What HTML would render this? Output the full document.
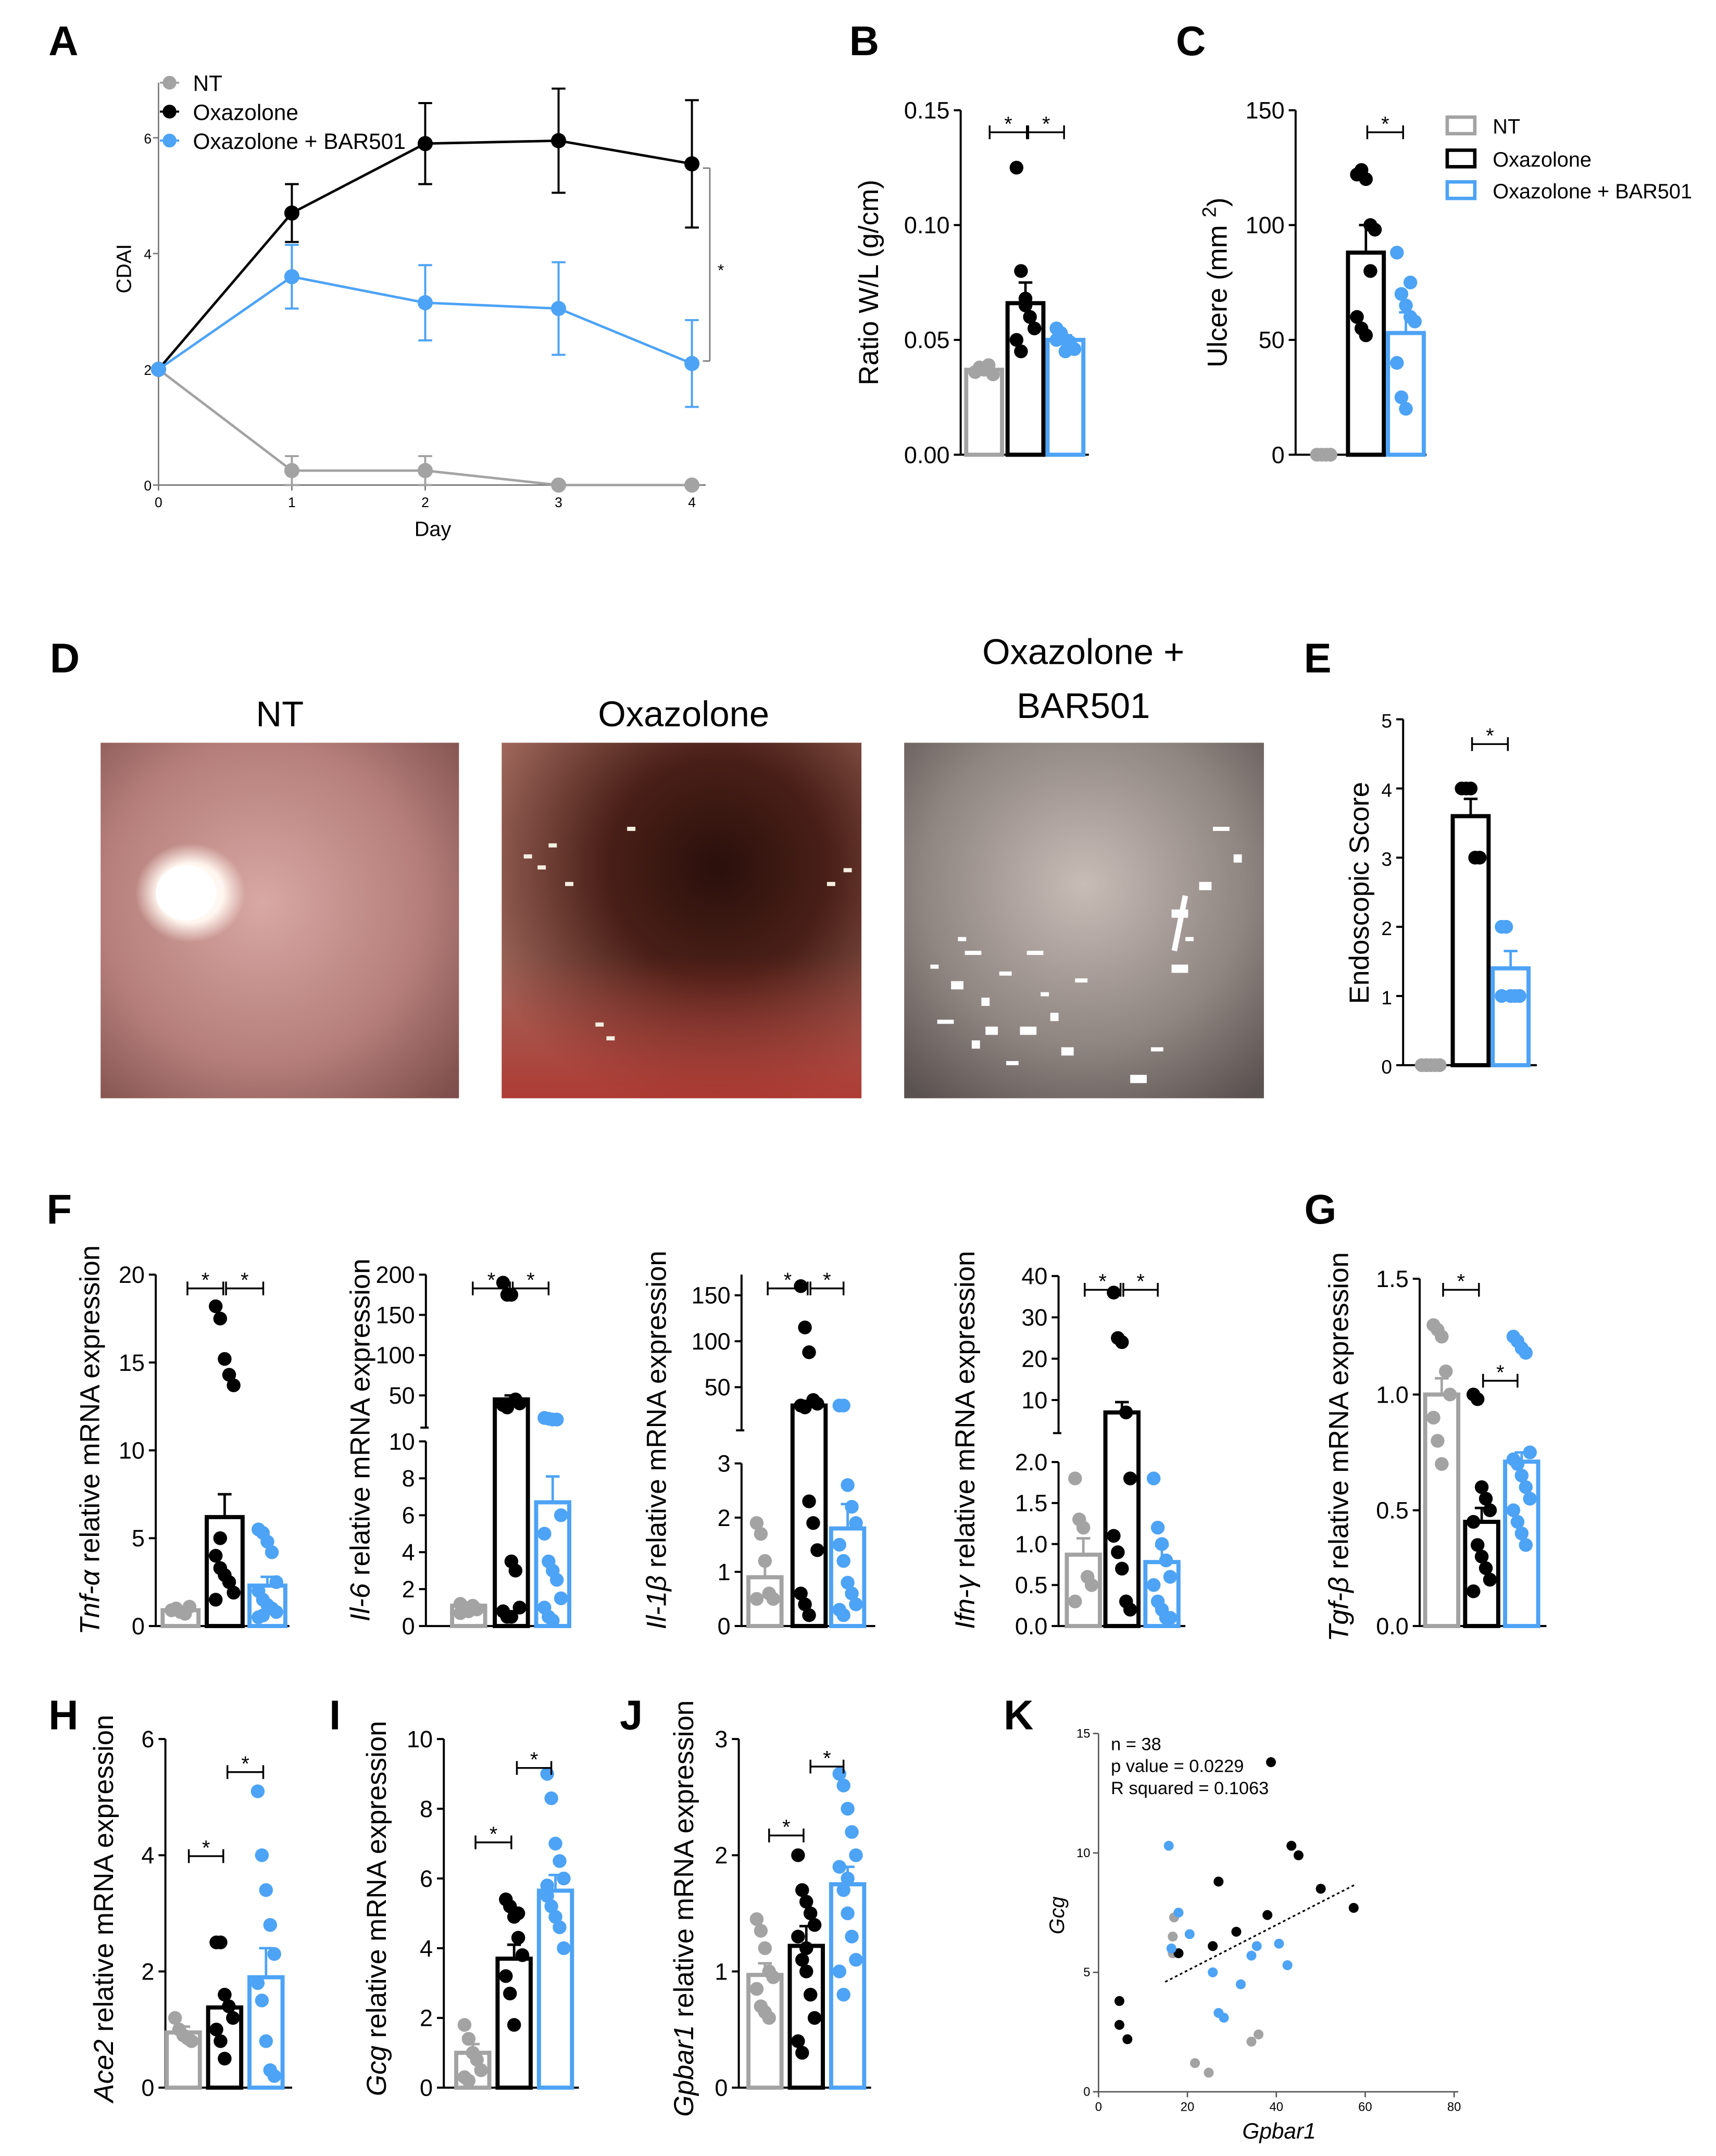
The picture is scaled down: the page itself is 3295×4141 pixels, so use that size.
<!DOCTYPE html>
<html><head><meta charset="utf-8">
<style>
html,body{margin:0;padding:0;background:#fff;}
svg{display:block;font-family:"Liberation Sans",sans-serif;}
</style></head>
<body>
<svg id="fig" width="3295" height="4141" viewBox="0 0 1245 1564.6" preserveAspectRatio="none" xmlns="http://www.w3.org/2000/svg">
<defs>
<radialGradient id="gNT" cx="0.45" cy="0.45" r="0.75"><stop offset="0" stop-color="#d8a8a4"/><stop offset="0.6" stop-color="#b57e7a"/><stop offset="1" stop-color="#7e4f4c"/></radialGradient>
<radialGradient id="gOX" cx="0.6" cy="0.35" r="0.7"><stop offset="0" stop-color="#2a0f0b"/><stop offset="0.45" stop-color="#4a2018"/><stop offset="1" stop-color="#a26a5e"/></radialGradient>
<radialGradient id="gBA" cx="0.5" cy="0.4" r="0.75"><stop offset="0" stop-color="#c8bcb6"/><stop offset="0.6" stop-color="#8f8581"/><stop offset="1" stop-color="#5a5250"/></radialGradient>
<radialGradient id="gWhite" cx="0.5" cy="0.5" r="0.5"><stop offset="0" stop-color="#ffffff"/><stop offset="0.6" stop-color="#fff6ef"/><stop offset="1" stop-color="#fff0e8" stop-opacity="0"/></radialGradient>
<linearGradient id="gRed" x1="0" y1="0" x2="0" y2="1"><stop offset="0.6" stop-color="#b0302a" stop-opacity="0"/><stop offset="1" stop-color="#b0302a" stop-opacity="0.8"/></linearGradient>
</defs>
<g id="root"></g>
</svg>
<script>
// ---------- DATA ----------
const days = [0,1,2,3,4];
const cdaiNT = [2,0.25,0.25,0,0];
const cdaiNTerr = [0,0.25,0.25,0,0];
const cdaiOX = [2,4.7,5.9,5.95,5.55];
const cdaiOXerr = [0,0.5,0.7,0.9,1.1];
const cdaiBA = [2,3.6,3.15,3.05,2.1];
const cdaiBAerr = [0,0.55,0.65,0.8,0.75];
const cdaiTicks = [0,2,4,6];

const bMeans = [0.037,0.066,0.050];
const bErr = [0.002,0.009,0.002];
const bNT = [0.036,0.038,0.037,0.039,0.035];
const bOX = [0.125,0.080,0.065,0.060,0.055,0.050,0.045,0.068];
const bBA = [0.055,0.052,0.050,0.048,0.046,0.050,0.053,0.045,0.049];
const bTicks = ["0.00","0.05","0.10","0.15"];

const cMeans = [0,88,53];
const cErr = [0,12,9];
const cNT = [0,0,0,0];
const cOX = [122,124,120,100,98,60,55,52,80];
const cBA = [88,70,65,60,58,40,25,20,75];
const cTicks = [0,50,100,150];

const eMeans = [0,3.6,1.4];
const eErr = [0,0.25,0.25];
const eNT = [0,0,0,0,0];
const eOX = [4,4,4,3,3];
const eBA = [2,2,1,1,1,1];
const eTicks = [0,1,2,3,4,5];

const tnfMeans = [0.9,6.2,2.3];
const tnfErr = [0.1,1.3,0.5];
const tnfNT = [0.9,1,0.8,0.7,1.1,0.9];
const tnfOX = [18.2,17.5,15.2,14.3,13.7,4.0,3.3,2.9,2.5,1.9,1.5,5.0];
const tnfBA = [5.5,5.3,4.8,4.2,2.5,2,1.5,1.2,1,0.8,0.5,0.6];
const tnfTicks = [0,5,10,15,20];

const il6Means = [1.1,45,6.7];
const il6Err = [0.1,5,1.4];
const il6NT = [1.2,1,0.8,1.1,0.9,0.7];
const il6OX = [190,175,175,45,40,38,35,3.5,3,1,0.8,0.5,0.5];
const il6BA = [22,21,20,20,6,5,3.5,3,2.5,1.5,1,0.5,0.3];
const il6TicksLow = [0,2,4,6,8,10];
const il6TicksHigh = [50,100,150,200];

const il1Means = [0.9,30,1.8];
const il1Err = [0.3,5,0.45];
const il1NT = [1.9,1.7,1.2,0.6,0.5,0.5];
const il1OX = [160,115,88,36,32,30,28,2.3,1.9,1.4,0.6,0.4,0.2];
const il1BA = [30,30,2.6,2.2,1.9,1.5,1.2,0.8,0.6,0.4,0.3,0.2];
const il1TicksLow = [0,1,2,3];
const il1TicksHigh = [50,100,150];

const ifnMeans = [0.87,7,0.78];
const ifnErr = [0.2,2.5,0.2];
const ifnNT = [1.8,1.3,1.2,0.6,0.5,0.3];
const ifnOX = [36,25,24,7,1.8,1.1,0.9,0.7,0.3,0.2];
const ifnBA = [1.8,1.2,1.0,0.8,0.6,0.5,0.3,0.2,0.1,0.1];
const ifnTicksLow = ["0.0","0.5","1.0","1.5","2.0"];
const ifnTicksHigh = [10,20,30,40];

const tgfMeans = [1.0,0.45,0.71];
const tgfErr = [0.07,0.06,0.04];
const tgfNT = [1.3,1.28,1.25,1.1,1.0,0.9,0.8,0.7];
const tgfOX = [1.0,0.98,0.6,0.55,0.5,0.45,0.35,0.3,0.25,0.2,0.15];
const tgfBA = [1.25,1.23,1.2,1.18,0.75,0.72,0.7,0.65,0.6,0.55,0.5,0.45,0.4,0.35];
const tgfTicks = ["0.0","0.5","1.0","1.5"];

const aceMeans = [0.95,1.38,1.9];
const aceErr = [0.1,0.22,0.5];
const aceNT = [1.2,1.0,0.9,0.85,0.8];
const aceOX = [2.5,2.5,1.6,1.4,1.2,1.0,0.8,0.5];
const aceBA = [5.1,4.0,3.4,2.8,2.3,1.8,1.5,0.8,0.3,0.2];
const aceTicks = [0,2,4,6];

const gcgMeans = [1.0,3.7,5.65];
const gcgErr = [0.25,0.4,0.45];
const gcgNT = [1.8,1.4,1.0,0.8,0.5,0.3,0.2];
const gcgOX = [5.4,5.2,4.9,4.3,3.8,3.2,2.7,1.8,5.0];
const gcgBA = [9.0,8.3,7.0,6.5,6.0,5.5,5.2,4.9,4.6,4.0,5.8];
const gcgTicks = [0,2,4,6,8,10];

const gpbMeans = [0.97,1.22,1.75];
const gpbErr = [0.1,0.17,0.15];
const gpbNT = [1.45,1.35,1.2,1.0,0.95,0.85,0.7,0.65,0.6];
const gpbOX = [2.0,1.7,1.6,1.5,1.4,1.3,1.1,1.0,0.8,0.6,0.4,0.3,1.2];
const gpbBA = [2.7,2.6,2.4,2.2,2.0,1.9,1.7,1.5,1.3,1.1,1.0,0.8,1.8];
const gpbTicks = [0,1,2,3];

const kBlackX = [4.7,6.5,18,25.7,27,31,38,43.4,45,38.8,50,57.4,4.7];
const kBlackY = [3.8,2.2,5.8,6.1,8.8,6.7,7.4,10.3,9.9,13.8,8.5,7.7,2.8];
const kGrayX = [17,16.7,21.7,24.8,34.4,36,16.7];
const kGrayY = [7.3,5.8,1.2,0.8,2.1,2.4,6.5];
const kBlueX = [15.8,18,16.4,20.5,25.7,27,28.2,34.4,35.6,40.6,42.5,32];
const kBlueY = [10.3,7.5,6,6.6,5,3.3,3.1,5.7,6.1,6.2,5.3,4.5];
const kFitX = [15,58];
const kFitY = [4.6,8.7];
const kXTicks = [0,20,40,60,80];
const kYTicks = [0,5,10,15];

// ---------- HELPERS ----------
const NS = "http://www.w3.org/2000/svg";
const root = document.getElementById('root');
const GRAY = "#a3a3a3", BLACK = "#000", BLUE = "#4da3f5";
const COLORS = [GRAY, BLACK, BLUE];
function el(tag, attrs, parent, text){
  const e = document.createElementNS(NS, tag);
  for (const k in attrs) e.setAttribute(k, attrs[k]);
  if (text !== undefined) e.textContent = text;
  (parent||root).appendChild(e);
  return e;
}
function lin(d0,d1,p0,p1){ return v => p0 + (v-d0)/(d1-d0)*(p1-p0); }
function grp(name){
  const g = el('g', {});
  
  
  return g;
}
function label(g, x, y, t, size, anchor, extra){
  const a = Object.assign({x:x, y:y, 'font-size':size, 'text-anchor':anchor||'middle', fill:'#000'}, extra||{});
  return el('text', a, g, t);
}
function rotTitle(g, x, y, parts, size, name){
  const t = el('text', {x:x, y:y, 'font-size':size, 'text-anchor':'middle', transform:'rotate(-90 '+x+' '+y+')'}, g);
  
  
  parts.forEach(p => { const s = el('tspan', p[1] ? {'font-style':'italic'} : {}, t, p[0]); });
  return t;
}
function panelLetter(x,y,t){
  const e = label(root, x, y, t, 30, 'middle', {'font-weight':'bold'});
  
  
}
function bracket(g, x1, x2, y){
  el('line', {x1:x1, x2:x2, y1:y, y2:y, stroke:'#000', 'stroke-width':1.3}, g);
  el('line', {x1:x1, x2:x1, y1:y-5, y2:y+5, stroke:'#000', 'stroke-width':1.3}, g);
  el('line', {x1:x2, x2:x2, y1:y-5, y2:y+5, stroke:'#000', 'stroke-width':1.3}, g);
  const s = label(g, (x1+x2)/2, y-1, '*', 15);
  
  
}

// Generic bar panel
function barPanel(cfg){
  const g = grp(cfg.name);
  const y = cfg.y;
  // axis
  if (cfg.breakAt){
    el('line', {x1:cfg.ax, x2:cfg.ax, y1:cfg.base, y2:cfg.breakAt[0], stroke:'#000', 'stroke-width':1.5}, g);
    el('line', {x1:cfg.ax, x2:cfg.ax, y1:cfg.breakAt[1], y2:cfg.top, stroke:'#000', 'stroke-width':1.5}, g);
    el('line', {x1:cfg.ax-4, x2:cfg.ax+2, y1:cfg.breakAt[1], y2:cfg.breakAt[1], stroke:'#000', 'stroke-width':1.5}, g);
  } else {
    el('line', {x1:cfg.ax, x2:cfg.ax, y1:cfg.base, y2:cfg.top, stroke:'#000', 'stroke-width':1.5}, g);
  }
  el('line', {x1:cfg.ax, x2:cfg.xEnd, y1:cfg.base, y2:cfg.base, stroke:'#000', 'stroke-width':1.5}, g);
  cfg.ticks.forEach(t => {
    const py = y(parseFloat(t));
    el('line', {x1:cfg.ax-5, x2:cfg.ax, y1:py, y2:py, stroke:'#000', 'stroke-width':1.5}, g);
    const tl = label(g, cfg.ax-8, py+6, String(t), cfg.tickSize||17, 'end');
    
    
  });
  const groups = [cfg.nt, cfg.ox, cfg.ba];
  cfg.means.forEach((m, i) => {
    const cx = cfg.xs[i], w = cfg.bw;
    const py = y(m);
    const b = el('rect', {x:cx-w/2, y:py, width:w, height:cfg.base-py, fill:'#fff', stroke:COLORS[i], 'stroke-width':3}, g);
    
    
    const pe = y(m + cfg.errs[i]);
    if (cfg.errs[i] > 0){
      el('line', {x1:cx, x2:cx, y1:py, y2:pe, stroke:COLORS[i], 'stroke-width':1.8}, g);
      el('line', {x1:cx-5, x2:cx+5, y1:pe, y2:pe, stroke:COLORS[i], 'stroke-width':1.8}, g);
    }
    groups[i].forEach((v, j) => {
      const off = ((j % 5) - 2) * (w/8);
      const d = el('circle', {cx:cx+off, cy:y(v), r:cfg.r||5, fill:COLORS[i]}, g);
      
      
    });
  });
  (cfg.brackets||[]).forEach(b => bracket(g, b[0], b[1], b[2]));
  return g;
}
function broken(lowMax, lowP0, lowP1, hiMin, hiMax, hiP0, hiP1){
  const lo = lin(0, lowMax, lowP0, lowP1), hi = lin(hiMin, hiMax, hiP0, hiP1);
  return v => v <= lowMax ? lo(v) : (v < hiMin ? hiP0 : hi(v));
}

// ---------- PANEL A ----------
(function(){
  const g = grp('panel-a-cdai-line-chart');
  const x = lin(0,4,115,502), y = lin(0,6,352,100);
  el('line', {x1:115, x2:115, y1:60, y2:352, stroke:'#777', 'stroke-width':1}, g);
  el('line', {x1:115, x2:512, y1:352, y2:352, stroke:'#777', 'stroke-width':1}, g);
  cdaiTicks.forEach(t => {
    el('line', {x1:111, x2:115, y1:y(t), y2:y(t), stroke:'#777'}, g);
    const l = label(g, 110, y(t)+4, String(t), 10, 'end');
    
    
  });
  days.forEach(d => {
    el('line', {x1:x(d), x2:x(d), y1:352, y2:356, stroke:'#777'}, g);
    const l = label(g, x(d), 368, String(d), 10);
    
    
  });
  const xt = label(g, 314, 389, 'Day', 15);
  
  
  rotTitle(g, 95, 195, [['CDAI',false]], 15, 'y-axis-title');
  const series = [[cdaiNT,cdaiNTerr,GRAY,'nt'],[cdaiOX,cdaiOXerr,BLACK,'oxazolone'],[cdaiBA,cdaiBAerr,BLUE,'bar501']];
  series.forEach(s => {
    const pts = days.map((d,i)=>x(d)+','+y(s[0][i])).join(' ');
    const pl = el('polyline', {points:pts, fill:'none', stroke:s[2], 'stroke-width':1.8}, g);
    
    
    days.forEach((d,i) => {
      const cx = x(d), v = s[0][i], e = s[1][i];
      if (e > 0){
        el('line', {x1:cx, x2:cx, y1:y(v-e), y2:y(v+e), stroke:s[2], 'stroke-width':1.5}, g);
        el('line', {x1:cx-5, x2:cx+5, y1:y(v-e), y2:y(v-e), stroke:s[2], 'stroke-width':1.5}, g);
        el('line', {x1:cx-5, x2:cx+5, y1:y(v+e), y2:y(v+e), stroke:s[2], 'stroke-width':1.5}, g);
      }
      const c = el('circle', {cx:cx, cy:y(v), r:5.5, fill:s[2]}, g);
      
      
    });
  });
  // legend
  const leg = [['NT',GRAY,60],['Oxazolone',BLACK,81],['Oxazolone + BAR501',BLUE,102]];
  leg.forEach(L => {
    const lg = el('g', {}, g);
    
    
    el('line', {x1:116, x2:130, y1:L[2], y2:L[2], stroke:L[1], 'stroke-width':1.5}, lg);
    el('circle', {cx:123, cy:L[2], r:5, fill:L[1]}, lg);
    label(lg, 140, L[2]+6, L[0], 16, 'start');
  });
  el('line', {x1:515, x2:515, y1:122, y2:262, stroke:'#777'}, g);
  el('line', {x1:510, x2:515, y1:122, y2:122, stroke:'#777'}, g);
  el('line', {x1:510, x2:515, y1:262, y2:262, stroke:'#777'}, g);
  label(g, 523, 200, '*', 12);
})();

// ---------- PANEL B ----------
barPanel({name:'panel-b-ratio-wl', y:lin(0,0.15,330,80), ax:697, top:80, base:330, xEnd:790,
  ticks:bTicks, xs:[714,744,773], bw:26, means:bMeans, errs:bErr, nt:bNT, ox:bOX, ba:bBA,
  brackets:[[718,745,96],[746,772,96]]});
rotTitle(root, 637, 205, [['Ratio W/L (g/cm)',false]], 20, 'y-axis-title-b');

// ---------- PANEL C ----------
barPanel({name:'panel-c-ulcer', y:lin(0,150,330,80), ax:940, top:80, base:330, xEnd:1035,
  ticks:cTicks, xs:[962,991,1020], bw:26, means:cMeans, errs:cErr, nt:cNT, ox:cOX, ba:cBA,
  brackets:[[992,1018,96]]});
(function(){
  const t = el('text', {x:890, y:205, 'font-size':20, 'text-anchor':'middle', transform:'rotate(-90 890 205)'});
  
  
  el('tspan', {}, t, 'Ulcere (mm ');
  el('tspan', {dy:-8, 'font-size':14}, t, '2');
  el('tspan', {dy:8}, t, ')');
  const leg = [['NT',GRAY,91],['Oxazolone',BLACK,115],['Oxazolone + BAR501',BLUE,138]];
  leg.forEach(L => {
    const lg = el('g', {});
    
    
    el('rect', {x:1050, y:L[2]-6, width:20, height:12, fill:'#fff', stroke:L[1], 'stroke-width':2.5}, lg);
    label(lg, 1083, L[2]+6, L[0], 15, 'start');
  });
})();

// ---------- PANEL D (photos) ----------
(function(){
  const g = grp('panel-d-endoscopy-images');
  const t1 = label(g, 203, 527, 'NT', 26);  
  const t2 = label(g, 496, 527, 'Oxazolone', 26);  
  const t3 = label(g, 786, 482, 'Oxazolone +', 26);  
  label(g, 786, 521, 'BAR501', 26);
  const p1 = el('rect', {x:73, y:539, width:260, height:258, fill:'url(#gNT)'}, g);
   
  el('ellipse', {cx:138, cy:648, rx:40, ry:36, fill:'url(#gWhite)'}, g);
  el('ellipse', {cx:135, cy:648, rx:22, ry:20, fill:'#fff'}, g);
  const p2 = el('rect', {x:364, y:539, width:261, height:258, fill:'url(#gOX)'}, g);
   
  el('rect', {x:364, y:539, width:261, height:258, fill:'url(#gRed)'}, g);
  [[380,620],[390,628],[398,612],[410,640],[432,742],[440,752],[600,640],[612,630],[455,600]].forEach(p=>el('rect',{x:p[0],y:p[1],width:6,height:3,fill:'#f4efe0'},g));
  const p3 = el('rect', {x:656, y:539, width:261, height:258, fill:'url(#gBA)'}, g);
   
  const specks = [[675,700],[690,712],[700,690],[712,724],[725,705],[740,745],[755,720],[770,760],[680,740],[705,755],[730,770],[850,700],[860,680],[870,640],[880,600],[895,620],[835,760],[820,780],[695,680],[715,745],[745,690],[762,735],[780,710],[850,660]];
  specks.forEach((p,i)=>el('rect',{x:p[0],y:p[1],width:6+(i%3)*3,height:3+(i%2)*3,fill:'#fff'},g));
  el('line',{x1:860,y1:650,x2:852,y2:690,stroke:'#fff','stroke-width':4},g);
})();

// ---------- PANEL E ----------
barPanel({name:'panel-e-endoscopic-score', y:lin(0,5,773,522), ax:1018, top:522, base:773, xEnd:1115,
  ticks:eTicks, xs:[1038,1067,1096], bw:26, means:eMeans, errs:eErr, nt:eNT, ox:eOX, ba:eBA, tickSize:14,
  brackets:[[1068,1094,540]]});
rotTitle(root, 993, 648, [['Endoscopic Score',false]], 20, 'y-axis-title-e');

// ---------- PANEL F ----------
barPanel({name:'panel-f-tnf', y:lin(0,20,1180,925), ax:113, top:925, base:1180, xEnd:210,
  ticks:tnfTicks, xs:[131,163,194], bw:26, means:tnfMeans, errs:tnfErr, nt:tnfNT, ox:tnfOX, ba:tnfBA,
  brackets:[[136,162,935],[164,191,935]]});
rotTitle(root, 72, 1045, [['Tnf-α',true],[' relative mRNA expression',false]], 20, 'y-axis-title-tnf');

const yIl6 = broken(10,1180,1046,10,200,1036,925);
barPanel({name:'panel-f-il6', y:yIl6, ax:309, top:925, base:1180, xEnd:410,
  ticks:il6TicksLow.concat(il6TicksHigh), xs:[340,371,401], bw:24, means:il6Means, errs:il6Err, nt:il6NT, ox:il6OX, ba:il6BA,
  breakAt:[1046,1036], brackets:[[343,370,935],[372,398,935]]});
rotTitle(root, 268, 1045, [['Il-6',true],[' relative mRNA expression',false]], 20, 'y-axis-title-il6');

const yIl1 = broken(3,1180,1062,3,150,1038,940);
barPanel({name:'panel-f-il1b', y:yIl1, ax:538, top:925, base:1180, xEnd:635,
  ticks:il1TicksLow.concat(il1TicksHigh), xs:[555,587,615], bw:24, means:il1Means, errs:il1Err, nt:il1NT, ox:il1OX, ba:il1BA,
  breakAt:[1062,1038], brackets:[[557,586,935],[588,612,935]]});
rotTitle(root, 483, 1045, [['Il-1β',true],[' relative mRNA expression',false]], 20, 'y-axis-title-il1b');

const yIfn = broken(2,1180,1061,2,40,1040,926);
barPanel({name:'panel-f-ifng', y:yIfn, ax:768, top:926, base:1180, xEnd:860,
  ticks:ifnTicksLow.concat(ifnTicksHigh), xs:[786,814,843], bw:24, means:ifnMeans, errs:ifnErr, nt:ifnNT, ox:ifnOX, ba:ifnBA,
  breakAt:[1061,1040], brackets:[[787,813,936],[815,840,936]]});
rotTitle(root, 707, 1045, [['Ifn-γ',true],[' relative mRNA expression',false]], 20, 'y-axis-title-ifng');

// ---------- PANEL G ----------
barPanel({name:'panel-g-tgfb', y:lin(0,1.5,1180,928), ax:1030, top:928, base:1180, xEnd:1122,
  ticks:tgfTicks, xs:[1046,1075,1104], bw:24, means:tgfMeans, errs:tgfErr, nt:tgfNT, ox:tgfOX, ba:tgfBA,
  brackets:[[1047,1073,936],[1076,1101,1002]]});
rotTitle(root, 978, 1050, [['Tgf-β',true],[' relative mRNA expression',false]], 20, 'y-axis-title-tgfb');

// ---------- PANEL H, I, J ----------
barPanel({name:'panel-h-ace2', y:lin(0,6,1515,1262), ax:120, top:1262, base:1515, xEnd:212,
  ticks:aceTicks, xs:[133,163,193], bw:24, means:aceMeans, errs:aceErr, nt:aceNT, ox:aceOX, ba:aceBA,
  brackets:[[137,162,1347],[165,191,1286]]});
rotTitle(root, 82, 1385, [['Ace2',true],[' relative mRNA expression',false]], 20, 'y-axis-title-ace2');

barPanel({name:'panel-i-gcg', y:lin(0,10,1515,1262), ax:322, top:1262, base:1515, xEnd:420,
  ticks:gcgTicks, xs:[343,373,403], bw:24, means:gcgMeans, errs:gcgErr, nt:gcgNT, ox:gcgOX, ba:gcgBA,
  brackets:[[345,371,1337],[375,400,1283]]});
rotTitle(root, 280, 1385, [['Gcg',true],[' relative mRNA expression',false]], 20, 'y-axis-title-gcg');

barPanel({name:'panel-j-gpbar1', y:lin(0,3,1515,1262), ax:536, top:1262, base:1515, xEnd:632,
  ticks:gpbTicks, xs:[555,585,615], bw:24, means:gpbMeans, errs:gpbErr, nt:gpbNT, ox:gpbOX, ba:gpbBA,
  brackets:[[558,583,1332],[588,612,1282]]});
rotTitle(root, 503, 1385, [['Gpbar1',true],[' relative mRNA expression',false]], 20, 'y-axis-title-gpbar1');

// ---------- PANEL K ----------
(function(){
  const g = grp('panel-k-scatter');
  const x = lin(0,80,797,1055), y = lin(0,15,1518,1258);
  el('line', {x1:797, x2:797, y1:1258, y2:1518, stroke:'#555', 'stroke-width':1}, g);
  el('line', {x1:797, x2:1058, y1:1518, y2:1518, stroke:'#555', 'stroke-width':1}, g);
  kXTicks.forEach(t => {
    el('line', {x1:x(t), x2:x(t), y1:1518, y2:1522, stroke:'#555'}, g);
    const l = label(g, x(t), 1532, String(t), 9);
     
  });
  kYTicks.forEach(t => {
    el('line', {x1:793, x2:797, y1:y(t), y2:y(t), stroke:'#555'}, g);
    const l = label(g, 791, y(t)+3, String(t), 9, 'end');
     
  });
  const fl = el('line', {x1:x(kFitX[0]), y1:y(kFitY[0]), x2:x(kFitX[1]), y2:y(kFitY[1]), stroke:'#000', 'stroke-width':1.2, 'stroke-dasharray':'2,2'}, g);
   
  [[kGrayX,kGrayY,GRAY],[kBlackX,kBlackY,BLACK],[kBlueX,kBlueY,BLUE]].forEach(s => {
    s[0].forEach((v,i) => {
      const c = el('circle', {cx:x(v), cy:y(s[1][i]), r:3.6, fill:s[2]}, g);
       
    });
  });
  label(g, 806, 1270, 'n = 38', 13, 'start');
  label(g, 806, 1286, 'p value = 0.0229', 13, 'start');
  label(g, 806, 1302, 'R squared = 0.1063', 13, 'start');
  const yt = el('text', {x:772, y:1390, 'font-size':15, 'font-style':'italic', 'text-anchor':'middle', transform:'rotate(-90 772 1390)'}, g, 'Gcg');
   
  const xt = label(g, 928, 1552, 'Gpbar1', 16, 'middle', {'font-style':'italic'});
   
})();

// ---------- letters ----------
[['A',46,40],['B',627,40],['C',864,40],['D',47,488],['E',956,488],['F',43,888],['G',958,888],['H',46,1255],['I',243,1255],['J',458,1255],['K',739,1255]].forEach(L=>panelLetter(L[1],L[2],L[0]));
</script>
</body></html>
